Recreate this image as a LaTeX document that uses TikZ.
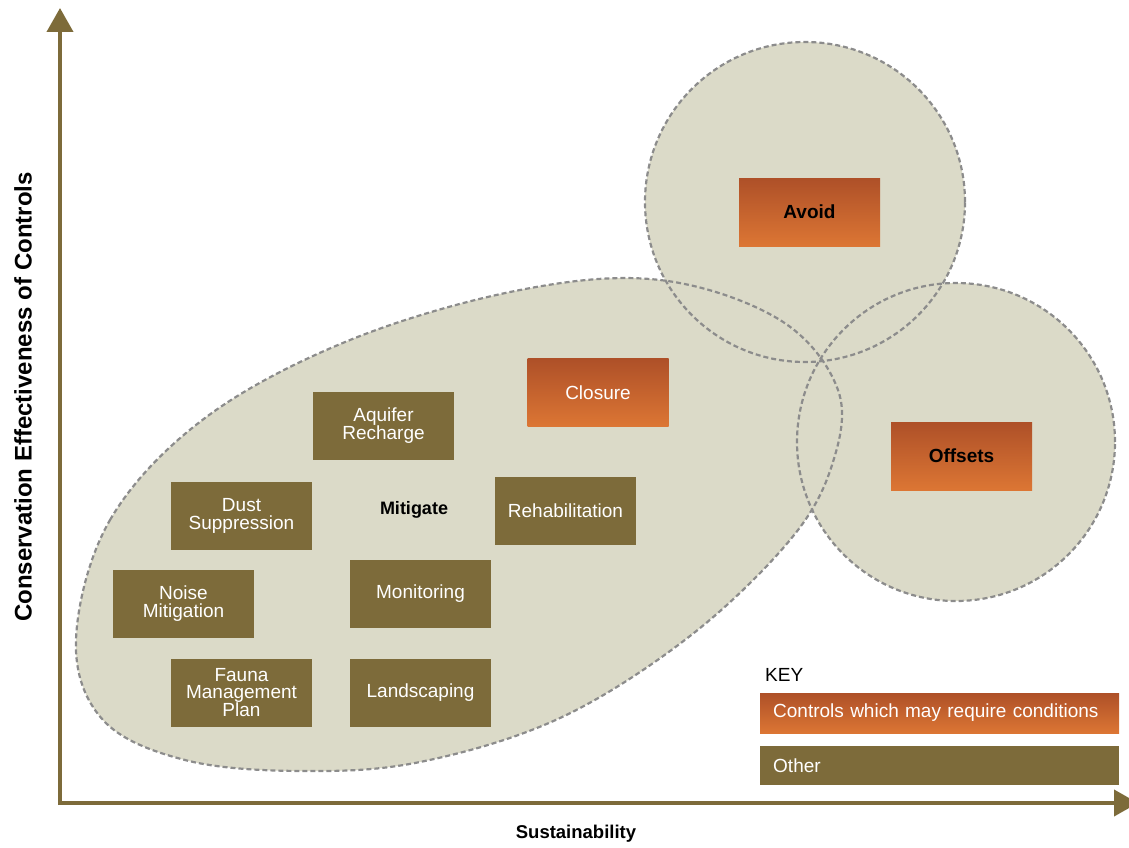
\documentclass[tikz,border=0pt]{standalone}
\usepackage{fontspec}
\setmainfont{Liberation Sans}
\usetikzlibrary{arrows.meta}
\definecolor{ctrlolive}{RGB}{125,107,58}
\definecolor{ctrltop}{RGB}{174,80,40}
\definecolor{ctrlbottom}{RGB}{220,118,52}
\definecolor{zonefill}{RGB}{219,218,200}
\definecolor{rimgray}{RGB}{140,140,140}

\begin{document}
\begin{tikzpicture}[x=1pt,y=-1pt,
        box/.style={rectangle,minimum width=141pt,minimum height=68pt,inner sep=0pt,align=center,font=\fontsize{19}{18}\selectfont,text=white},
        other/.style={box,fill=ctrlolive},
        cond/.style={box,top color=ctrltop,bottom color=ctrlbottom},
        zone/.style={fill=zonefill},
        rim/.style={draw=rimgray,line width=2.2pt,dash pattern=on 5pt off 3pt},
        axis/.style={ctrlolive,line width=4pt,-{Triangle[width=26pt,length=24pt]}},
        keybar/.style={rectangle,anchor=west,minimum width=359pt,inner sep=0pt,text width=333pt,align=left,font=\fontsize{19}{19}\selectfont,text=white}
    ]
        \useasboundingbox (0,0) rectangle (1129,848);

        % Zones: filled first, dashed rims on top
        \def\mitigatezone{plot[smooth cycle,tension=0.6] coordinates {(76,640) (110,520) (205,418) (350,340) (520,290) (660,280) (780,320) (838,390) (832,465) (790,540) (690,636) (560,718) (420,762) (300,771) (185,760) (103,720)}}
        \fill[zone] \mitigatezone;
        \fill[zone] (805,202) circle [radius=160pt];
        \fill[zone] (956,442) circle [radius=159pt];
        \draw[rim] \mitigatezone;
        \draw[rim] (805,202) circle [radius=160pt];
        \draw[rim] (956,442) circle [radius=159pt];

        % Axes
        \coordinate (origin) at (60,803);
        \coordinate (ytip) at (60,8);
        \coordinate (xtip) at (1138,803);
        \draw[axis] ([yshift=-2pt]origin) -- (ytip);
        \draw[axis] ([xshift=-2pt]origin) -- (xtip);
        \node[rotate=90,font=\fontsize{24}{24}\selectfont\bfseries] (ylab) at (23,397) {Conservation Effectiveness of Controls};
        \node[font=\fontsize{18.5}{18.5}\selectfont\bfseries] (xlab) at (576,834) {Sustainability};

        % Controls
        \node[cond,text=black,font=\fontsize{19}{18}\selectfont\bfseries] (avoid) at (809.5,212) {Avoid};
        \node[cond,text=black,font=\fontsize{19}{18}\selectfont\bfseries] (offsets) at (961.5,456) {Offsets};
        \node[cond] (closure) at (598,392.5) {Closure};
        \node[other] (aquifer) at (383.5,425.5) {Aquifer\\Recharge};
        \node[other] (dust) at (241.5,515.5) {Dust\\Suppression};
        \node[other] (rehab) at (565.5,510.5) {Rehabilitation};
        \node[other] (noise) at (183.5,604) {Noise\\Mitigation};
        \node[other] (monitor) at (420.5,594) {Monitoring};
        \node[other,font=\fontsize{19}{17}\selectfont] (fauna) at (241.5,692.5) {Fauna\\Management\\Plan};
        \node[other] (landsc) at (420.5,692.5) {Landscaping};
        \node[font=\fontsize{18}{18}\selectfont\bfseries] (mitigate) at (414,510) {Mitigate};

        % Key
        \node[anchor=west,inner sep=0pt,font=\fontsize{19}{19}\selectfont] (key) at (765,675) {KEY};
        \node[keybar,minimum height=40pt,top color=ctrltop,bottom color=ctrlbottom] (keycond) at (760,713) {Controls which may require conditions};
        \node[keybar,minimum height=39pt,fill=ctrlolive] (keyother) at (760,765.5) {Other};
    \end{tikzpicture}
\end{document}
